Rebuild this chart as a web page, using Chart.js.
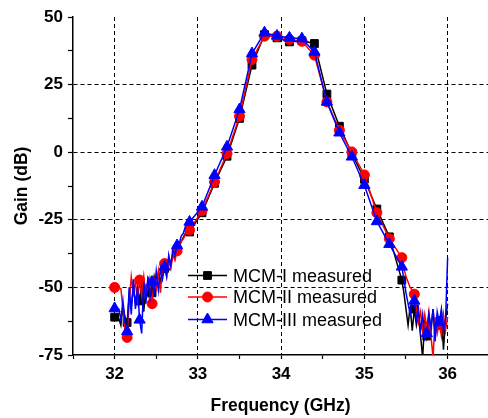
<!DOCTYPE html>
<html>
<head>
<meta charset="utf-8">
<script src="https://cdn.jsdelivr.net/npm/chart.js@4.4.1/dist/chart.umd.min.js"></script>
<style>
  body { margin: 0; background: #fff; }
  canvas { display: block; }
</style>
</head>
<body>
<canvas id="myChart" width="488" height="418"></canvas>
<script>
// frequencies (GHz): dense where the traces are noisy, marker spacing in between
const freqLow = [32.000, 32.025, 32.050, 32.075, 32.100, 32.125, 32.150, 32.175, 32.200, 32.225,
                 32.250, 32.275, 32.300, 32.325, 32.350, 32.375, 32.400, 32.425, 32.450, 32.475,
                 32.500, 32.525, 32.550, 32.575, 32.600, 32.625, 32.650, 32.675, 32.700, 32.725,
                 32.750, 32.775, 32.800, 32.825, 32.850];
const freqMid = [32.90, 33.05, 33.20, 33.35, 33.50, 33.65, 33.80, 33.95, 34.10, 34.25,
                 34.40, 34.55, 34.70, 34.85, 35.00, 35.15, 35.30];
const freqHigh = [35.450, 35.475, 35.500, 35.525, 35.550, 35.575, 35.600, 35.625, 35.650, 35.675,
                  35.700, 35.725, 35.750, 35.775, 35.800, 35.825, 35.850, 35.875, 35.900, 35.925,
                  35.950, 35.975, 36.000];

// gain (dB) MCM-I
const gainILow = [-61, -61, -61.5, -64, -57, -61, -63, -53, -57, -50,
                  -56, -50, -55, -49, -59, -50, -53, -47, -52, -46,
                  -50, -45, -48, -43, -43, -44, -40, -41, -37, -39,
                  -36, -35, -33, -31.5, -30];
const gainIMid = [-29.5, -22.4, -11.5, -1.5, 12.5, 32.2, 43.5, 42.3, 40.8, 41.2,
                  40.2, 21.5, 9.6, -0.5, -10.0, -21.0, -31.3];
const gainIHigh = [-47.3, -52, -58, -64, -57, -66, -58, -64, -60, -68,
                   -76, -62, -68, -60, -66, -58, -67, -61, -64, -59,
                   -73, -62, -56];

// gain (dB) MCM-II
const gainIILow = [-50, -50, -50, -50.5, -58, -66, -68.5, -56, -46, -52,
                   -48, -55, -47.3, -53, -46, -54, -47, -51, -56, -47,
                   -50, -44, -52, -42, -41.2, -46, -40, -43, -38, -40,
                   -36.5, -35, -33, -32, -30.5];
const gainIIMid = [-28.8, -21.6, -11.0, -0.5, 13.3, 34.3, 42.9, 42.9, 41.7, 41.0,
                   35.9, 18.6, 8.1, 0.1, -8.4, -22.4, -32.0];
const gainIIHigh = [-39, -43, -46, -48, -50, -51, -52.5, -58, -63, -59,
                    -66, -60, -65, -59, -68, -76, -61, -67, -63, -68,
                    -60, -66, -61];

// gain (dB) MCM-III
const gainIIILow = [-57.8, -57.8, -58, -62, -55, -63, -66.3, -50, -60, -47,
                    -58, -50, -62, -67, -48, -56, -46, -54, -48, -52,
                    -44, -51, -43, -47, -42.4, -46, -38, -42, -36, -38,
                    -34.5, -34, -31, -30, -27.5];
const gainIIIMid = [-25.8, -20.2, -8.5, 2.0, 15.8, 36.5, 44.2, 43.0, 42.3, 42.0,
                    37.1, 18.6, 7.2, -1.7, -12.2, -25.6, -34.0];
const gainIIIHigh = [-42.4, -47, -52, -56, -60, -55, -55, -62, -58, -66,
                     -60, -69, -67, -60, -65, -58, -70, -59, -63, -58,
                     -66, -62, -39];

const seriesNames = ['MCM-I measured', 'MCM-II measured', 'MCM-III measured'];
const xTicks = [31.5, 32, 32.5, 33, 33.5, 34, 34.5, 35, 35.5, 36];
const yTicks = [-75, -62.5, -50, -37.5, -25, -12.5, 0, 12.5, 25, 37.5, 50];

const freq = [...freqLow, ...freqMid, ...freqHigh];
function toPoints(low, mid, high) {
    const g = [...low, ...mid, ...high];
    return freq.map((f, i) => ({ x: f, y: g[i] }));
}
// markers every 0.15 GHz starting at 32 GHz
function isMarker(f) {
    const k = (f - 32) / 0.15;
    return Math.abs(k - Math.round(k)) < 1e-6 && f < 35.95;
}

const FONT = '"Liberation Sans", Arial, sans-serif';

const styles = [
    { color: '#000000', pointStyle: 'rect', radius: 5.5, order: 3 },
    { color: '#ff0000', pointStyle: 'circle', radius: 5, order: 2 },
    { color: '#0000ff', pointStyle: 'triangle', radius: 6.5, order: 1 }
];
const allData = [
    toPoints(gainILow, gainIMid, gainIHigh),
    toPoints(gainIILow, gainIIMid, gainIIHigh),
    toPoints(gainIIILow, gainIIIMid, gainIIIHigh)
];

const datasets = allData.map((d, i) => ({
    label: seriesNames[i],
    data: d,
    order: styles[i].order,
    borderColor: styles[i].color,
    backgroundColor: styles[i].color,
    borderWidth: 1.5,
    tension: 0,
    pointStyle: styles[i].pointStyle,
    pointRadius: ctx => isMarker(ctx.raw.x) ? styles[i].radius : 0,
    pointBorderWidth: 1,
    pointBorderColor: styles[i].color,
    pointBackgroundColor: styles[i].color
}));

function drawMarker(ctx, style, x, y, r) {
    ctx.beginPath();
    if (style === 'rect') {
        const s = r * Math.SQRT1_2;
        ctx.rect(x - s, y - s, 2 * s, 2 * s);
    } else if (style === 'circle') {
        ctx.arc(x, y, r, 0, Math.PI * 2);
    } else {
        ctx.moveTo(x, y - r);
        ctx.lineTo(x + r * Math.sin(Math.PI / 3), y + r * 0.5);
        ctx.lineTo(x - r * Math.sin(Math.PI / 3), y + r * 0.5);
        ctx.closePath();
    }
    ctx.fill();
    ctx.stroke();
}

const legendRows = [275.5, 297, 319.5];
const lineLegend = {
    id: 'lineLegend',
    afterDraw(chart) {
        const ctx = chart.ctx;
        ctx.save();
        seriesNames.forEach((name, i) => {
            const y = legendRows[i];
            const st = styles[i];
            ctx.strokeStyle = st.color;
            ctx.fillStyle = st.color;
            ctx.lineWidth = 1.5;
            ctx.beginPath();
            ctx.moveTo(188, y);
            ctx.lineTo(227, y);
            ctx.stroke();
            ctx.lineWidth = 1;
            drawMarker(ctx, st.pointStyle, 207.5, y, st.radius);
            ctx.fillStyle = '#000';
            ctx.font = '18px ' + FONT;
            ctx.textBaseline = 'alphabetic';
            ctx.textAlign = 'left';
            ctx.fillText(name, 233, y + 6.4);
        });
        ctx.restore();
    }
};

const ctx = document.getElementById('myChart');
const myChart = new Chart(ctx, {
    type: 'line',
    data: { datasets: datasets },
    options: {
        responsive: false,
        animation: false,
        events: [],
        layout: { autoPadding: false, padding: { top: 17, right: 0, bottom: 0, left: 0 } },
        plugins: {
            legend: { display: false },
            tooltip: { enabled: false }
        },
        scales: {
            x: {
                type: 'linear',
                min: 31.5,
                max: 36.485,
                afterBuildTicks: s => { s.ticks = xTicks.map(v => ({ value: v })); },
                afterFit: s => { s.height = 63; },
                ticks: {
                    autoSkip: false,
                    maxRotation: 0,
                    padding: 5,
                    color: '#000',
                    font: { family: FONT, size: 17, weight: 'bold' },
                    callback: v => Number.isInteger(v) ? String(v) : ''
                },
                grid: {
                    color: c => (c.tick && Number.isInteger(c.tick.value) && c.tick.value > 31.5) ? '#000' : 'rgba(0,0,0,0)',
                    lineWidth: 1,
                    tickColor: '#000',
                    tickLength: 4,
                    tickWidth: 1.2
                },
                border: { display: true, color: '#000', width: 1.5, dash: [4, 3] },
                title: {
                    display: true,
                    text: 'Frequency (GHz)',
                    color: '#000',
                    font: { family: FONT, size: 17.5, weight: 'bold' },
                    padding: { top: 0, bottom: 1 }
                }
            },
            y: {
                min: -75,
                max: 50,
                afterBuildTicks: s => { s.ticks = yTicks.map(v => ({ value: v })); },
                afterFit: s => { s.width = 73; },
                ticks: {
                    autoSkip: false,
                    padding: 5,
                    color: '#000',
                    font: { family: FONT, size: 17, weight: 'bold' },
                    callback: v => v % 25 === 0 ? String(v) : ''
                },
                grid: {
                    color: c => (c.tick && c.tick.value % 25 === 0 && c.tick.value > -75 && c.tick.value < 50) ? '#000' : 'rgba(0,0,0,0)',
                    lineWidth: 1,
                    tickColor: '#000',
                    tickLength: 5,
                    tickWidth: 1.2
                },
                border: { display: true, color: '#000', width: 1.5, dash: [4, 3] },
                title: {
                    display: true,
                    text: 'Gain (dB)',
                    color: '#000',
                    font: { family: FONT, size: 17.5, weight: 'bold' },
                    padding: { top: 12, bottom: 0 }
                }
            }
        }
    },
    plugins: [lineLegend]
});
</script>
</body>
</html>
